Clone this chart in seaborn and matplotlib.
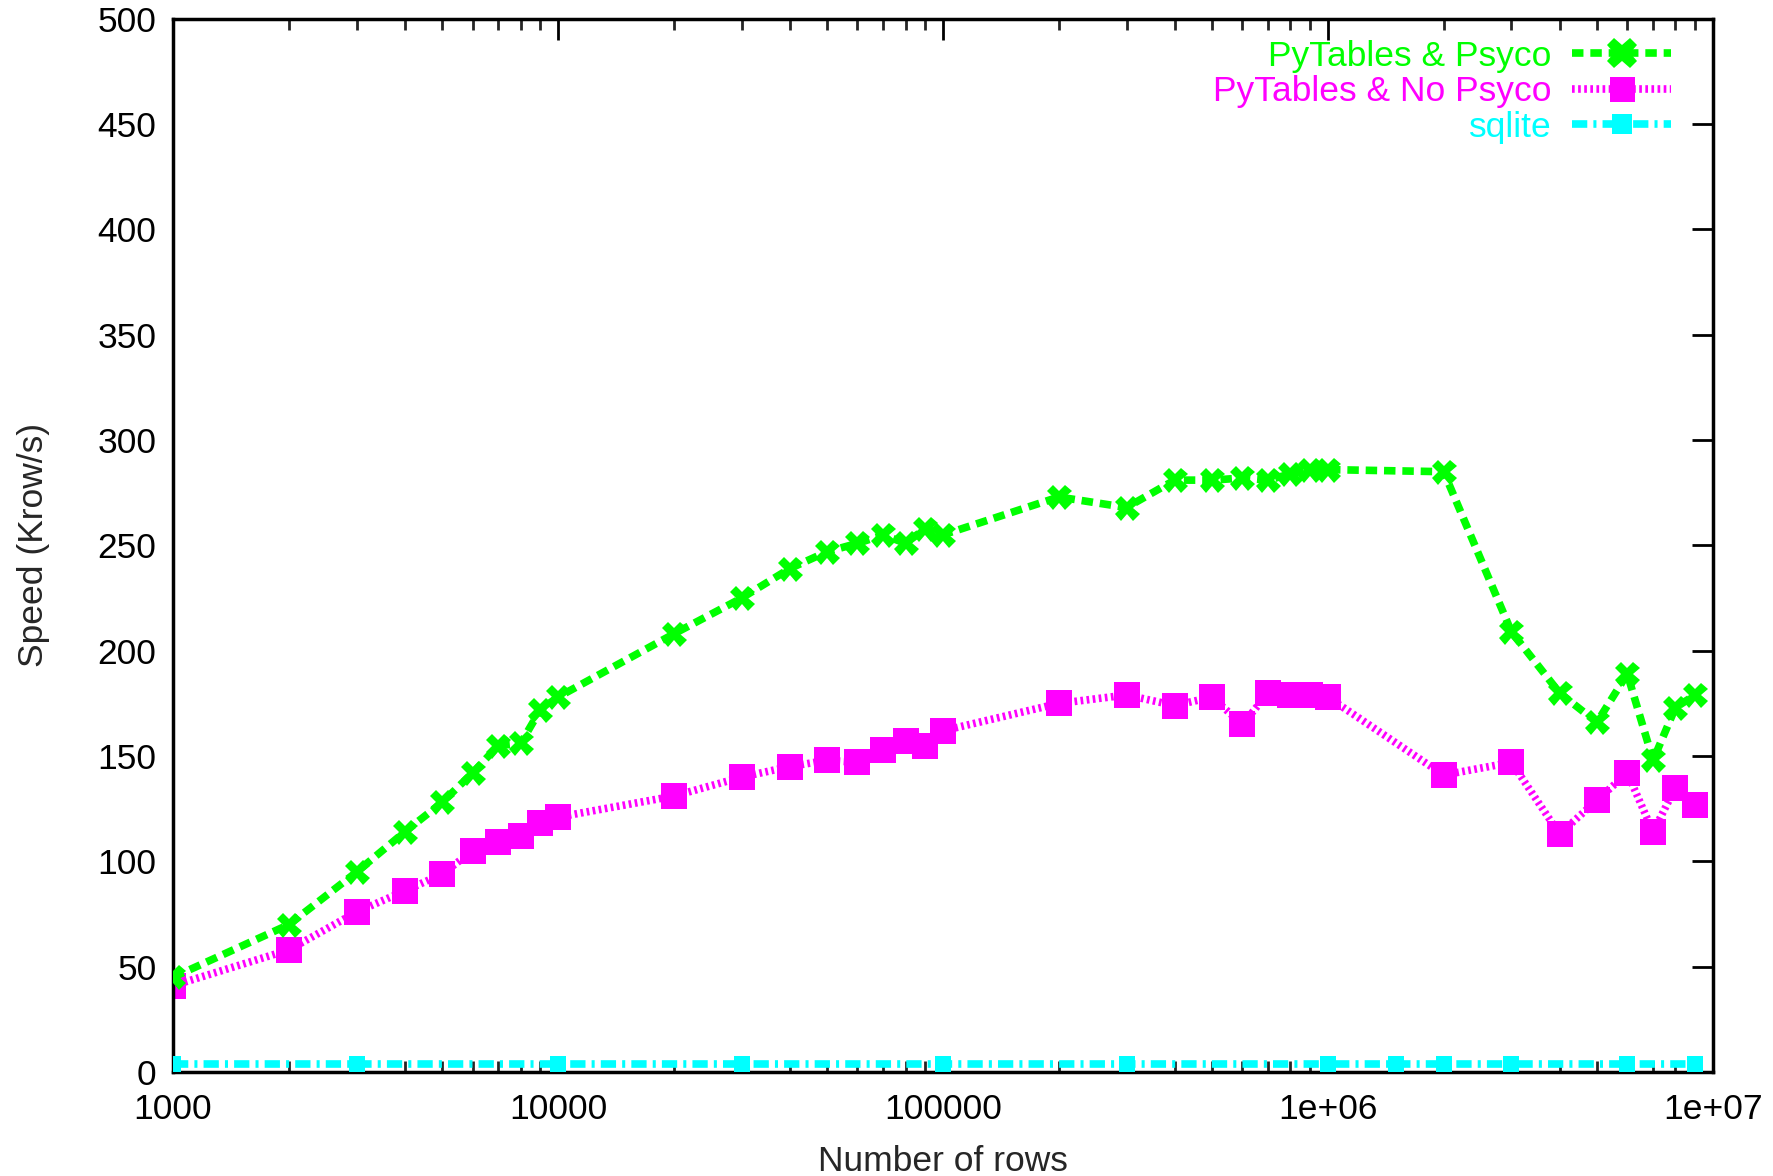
import numpy as np
import pandas as pd
import matplotlib
matplotlib.use("Agg")
import matplotlib.pyplot as plt
import seaborn as sns
from matplotlib.ticker import FixedLocator, NullFormatter
from matplotlib.lines import Line2D

# ---- data ----
rows = [1000, 2000, 3000, 4000, 5000, 6000, 7000, 8000, 9000,
        10000, 20000, 30000, 40000, 50000, 60000, 70000, 80000, 90000,
        100000, 200000, 300000, 400000, 500000, 600000, 700000, 800000, 900000,
        1000000, 2000000, 3000000, 4000000, 5000000, 6000000, 7000000, 8000000, 9000000]
psyco = [45, 70, 95, 114, 128, 142, 155, 156, 172,
         178, 208, 225, 239, 247, 251, 255, 251, 258,
         255, 273, 268, 281, 281, 282, 281, 284, 286,
         286, 285, 209, 180, 166, 189, 148, 173, 179]
no_psyco = [41, 58, 76, 86, 94, 105, 109, 112, 118,
            121, 131, 140, 145, 148, 147, 153, 157, 155,
            162, 175, 179, 174, 178, 165, 180, 179, 179,
            178, 141, 147, 113, 129, 142, 114, 135, 127]
sqlite_rows = [1000, 3000, 10000, 30000, 100000, 300000, 1000000,
               1500000, 2000000, 3000000, 6000000, 9000000]
sqlite = [3.8, 3.8, 3.8, 3.8, 3.8, 3.8, 3.8, 3.8, 3.8, 3.8, 3.8, 3.8]

labels = ["PyTables & Psyco", "PyTables & No Psyco", "sqlite"]
colors = ["#00ff00", "#ff00ff", "#00ffff"]
xticks = [1000, 10000, 100000, 1000000, 10000000]
xticklabels = ["1000", "10000", "100000", "1e+06", "1e+07"]
yticks = list(range(0, 501, 50))

sns.set_style("white")
plt.rcParams['font.family'] = ['Liberation Sans', 'DejaVu Sans']
FS = 25.5

fig = plt.figure(figsize=(17.73, 11.76), dpi=100)
ax = fig.add_axes([0.0976, 0.0884, 0.966 - 0.0976, 0.984 - 0.0884])

df1 = pd.DataFrame({"rows": rows, "speed": psyco})
df2 = pd.DataFrame({"rows": rows, "speed": no_psyco})
df3 = pd.DataFrame({"rows": sqlite_rows, "speed": sqlite})

LW = 5.5
D1, D2, D3 = (1.5, 0.9), (0.35, 0.45), (2.0, 0.8, 0.4, 0.8)
sns.lineplot(data=df1, x="rows", y="speed", ax=ax, color=colors[0], lw=LW,
             marker="X", markersize=18, markeredgewidth=0, zorder=3)
ax.lines[-1].set_dashes(D1)
sns.lineplot(data=df2, x="rows", y="speed", ax=ax, color=colors[1], lw=LW,
             marker="s", markersize=18.5, markeredgewidth=0, zorder=2)
ax.lines[-1].set_dashes(D2)
sns.lineplot(data=df3, x="rows", y="speed", ax=ax, color=colors[2], lw=LW,
             marker="s", markersize=11, markeredgewidth=0, zorder=4)
ax.lines[-1].set_dashes(D3)

ax.set_xscale("log")
ax.set_xlim(1000, 10000000)
ax.set_ylim(0, 500)
ax.xaxis.set_major_locator(FixedLocator(xticks))
ax.set_xticklabels(xticklabels)
minor = [m * d for d in [1000, 10000, 100000, 1000000] for m in range(2, 10)]
ax.xaxis.set_minor_locator(FixedLocator(minor))
ax.xaxis.set_minor_formatter(NullFormatter())
ax.set_yticks(yticks)
ax.set_yticklabels([str(v) for v in yticks])

ax.tick_params(axis="both", which="major", direction="in", length=15, width=2,
               labelsize=FS, top=True, right=True, colors="black")
ax.tick_params(axis="x", which="major", pad=15)
ax.tick_params(axis="y", which="major", pad=12)
ax.tick_params(axis="x", which="minor", direction="in", length=8, width=2,
               top=True, bottom=True)
for s in ax.spines.values():
    s.set_visible(True)
    s.set_linewidth(2.5)
    s.set_color("black")

ax.set_xlabel("Number of rows", fontsize=FS, labelpad=14)
ax.set_ylabel("Speed (Krow/s)", fontsize=FS, labelpad=34)

handles = [
    Line2D([], [], color=colors[0], lw=LW, dashes=D1, marker="X", markersize=22, markeredgewidth=0),
    Line2D([], [], color=colors[1], lw=LW, dashes=D2, marker="s", markersize=18, markeredgewidth=0),
    Line2D([], [], color=colors[2], lw=LW, dashes=D3, marker="s", markersize=14, markeredgewidth=0),
]
leg = ax.legend(handles, labels, loc="upper right", bbox_to_anchor=(0.973, 0.980),
                frameon=False, markerfirst=False, fontsize=FS, handlelength=2.8,
                numpoints=1, labelcolor=colors, borderaxespad=0, borderpad=0,
                labelspacing=0.07, handletextpad=0.57)

fig.savefig("out.png", dpi=100)
